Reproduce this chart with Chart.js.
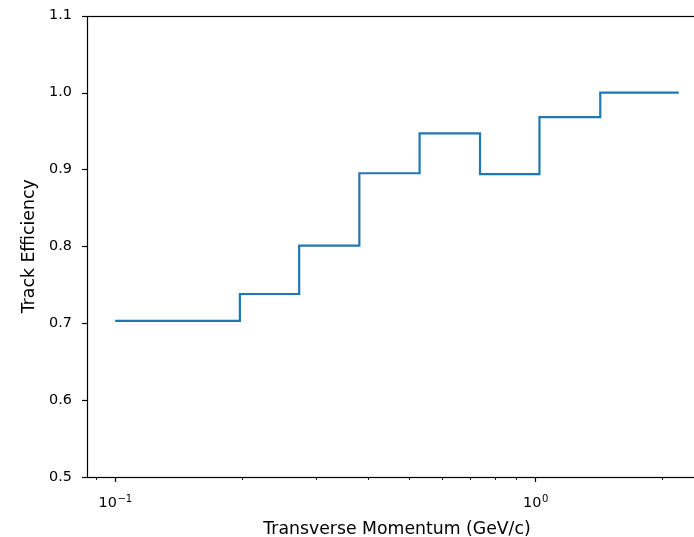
<!DOCTYPE html>
<html>
<head>
    <title>Track Efficiency</title>
    <script src="https://cdn.jsdelivr.net/npm/chart.js@4.4.1/dist/chart.umd.min.js"></script>
    <style>
        html, body {
            margin: 0;
            padding: 0;
            background: #fff;
            overflow: hidden;
        }
        canvas {
            display: block;
        }
    </style>
</head>
<body>
    <canvas id="effChart" width="694" height="537"></canvas>
    <script>
        // bin edges (GeV/c), value holds until the next edge
        const ptEdges = [0.1, 0.198, 0.274, 0.381, 0.53, 0.738, 1.022, 1.426, 2.193];
        const efficiency = [0.703, 0.738, 0.801, 0.895, 0.947, 0.894, 0.968, 1.0, 1.0];

        const yTicks = [0.5, 0.6, 0.7, 0.8, 0.9, 1.0, 1.1];
        const xTicks = [0.09, 0.1, 0.2, 0.3, 0.4, 0.5, 0.6, 0.7, 0.8, 0.9, 1, 2];
        const xMajor = [0.1, 1];
        const xMajorBase = ['10', '10'];
        const xMajorExp = ['\u22121', '0'];

        // matplotlib style 5% margin in log space
        const span = Math.log10(ptEdges[ptEdges.length - 1] / ptEdges[0]);
        const xMin = ptEdges[0] / Math.pow(10, 0.05 * span);
        const xMax = ptEdges[ptEdges.length - 1] * Math.pow(10, 0.05 * span);

        const font = 'DejaVu Sans';
        const hiddenRight = 13; // the right spine sits just past the picture

        // let the plot area run past the canvas edge, like the cropped original
        const stretch = {
            id: 'stretch',
            afterLayout(chart) {
                const a = chart.chartArea, x = chart.scales.x;
                a.right += hiddenRight;
                a.width = a.right - a.left;
                x.right = a.right;
                x.width = a.width;
                x.configure();
            }
        };

        // spines, tick marks and the 10^n labels, drawn like matplotlib
        const frame = {
            id: 'frame',
            afterDraw(chart) {
                const {ctx, chartArea: a, scales: {x, y}} = chart;
                ctx.save();
                ctx.strokeStyle = '#000';
                x.ticks.forEach(t => {
                    const px = Math.round(x.getPixelForValue(t.value)) + 0.5;
                    ctx.lineWidth = t.major ? 1.2 : 0.9;
                    ctx.beginPath();
                    ctx.moveTo(px, a.bottom);
                    ctx.lineTo(px, a.bottom + (t.major ? 5 : 3));
                    ctx.stroke();
                });
                y.ticks.forEach(t => {
                    const py = Math.round(y.getPixelForValue(t.value)) + 0.5;
                    ctx.lineWidth = 1.2;
                    ctx.beginPath();
                    ctx.moveTo(a.left, py);
                    ctx.lineTo(a.left - 5, py);
                    ctx.stroke();
                });
                const l = Math.round(a.left) + 0.5, tp = Math.round(a.top) + 0.5, b = Math.round(a.bottom) + 0.5;
                ctx.lineWidth = 1.2;
                ctx.strokeRect(l, tp, Math.round(a.right - a.left), b - tp);

                // major x labels with a real superscript
                ctx.fillStyle = '#000';
                ctx.textBaseline = 'alphabetic';
                ctx.textAlign = 'left';
                xMajor.forEach((v, i) => {
                    const px = x.getPixelForValue(v);
                    ctx.font = '14.4px "' + font + '"';
                    const wb = ctx.measureText(xMajorBase[i]).width;
                    ctx.font = '10.1px "' + font + '"';
                    const we = ctx.measureText(xMajorExp[i]).width;
                    const x0 = px - (wb + we) / 2;
                    ctx.font = '14.4px "' + font + '"';
                    ctx.fillText(xMajorBase[i], x0, 507);
                    ctx.font = '10.1px "' + font + '"';
                    ctx.fillText(xMajorExp[i], x0 + wb + 0.5, 501.5);
                });
                ctx.restore();
            }
        };

        const ctx = document.getElementById('effChart').getContext('2d');
        new Chart(ctx, {
            type: 'line',
            data: {
                datasets: [{
                    data: ptEdges.map((p, i) => ({x: p, y: efficiency[i]})),
                    stepped: 'before',
                    borderColor: '#1f77b4',
                    borderWidth: 2.2,
                    pointRadius: 0,
                    fill: false
                }]
            },
            options: {
                responsive: false,
                animation: false,
                devicePixelRatio: 1,
                layout: {
                    padding: {top: 11, right: 0, left: 0, bottom: 0}
                },
                plugins: {
                    legend: {display: false},
                    tooltip: {enabled: false}
                },
                scales: {
                    x: {
                        type: 'logarithmic',
                        min: xMin,
                        max: xMax,
                        grid: {display: false},
                        border: {display: false},
                        afterFit: s => { s.height = 60; },
                        afterBuildTicks: s => {
                            s.ticks = xTicks.map(v => ({value: v, major: xMajor.includes(v)}));
                        },
                        ticks: {
                            autoSkip: false,
                            maxRotation: 0,
                            padding: 15,
                            color: '#000',
                            font: {family: font, size: 14.4},
                            callback: () => ''
                        },
                        title: {
                            display: true,
                            text: 'Transverse Momentum (GeV/c)',
                            color: '#000',
                            font: {family: font, size: 17.3},
                            padding: {top: 0, bottom: -3}
                        }
                    },
                    y: {
                        min: 0.5,
                        max: 1.1,
                        grid: {display: false},
                        border: {display: false},
                        afterFit: s => { s.width = 87; },
                        afterBuildTicks: s => {
                            s.ticks = yTicks.map(v => ({value: v}));
                        },
                        ticks: {
                            padding: 7,
                            color: '#000',
                            font: {family: font, size: 14.4},
                            callback: v => v.toFixed(1)
                        },
                        title: {
                            display: true,
                            text: 'Track Efficiency',
                            color: '#000',
                            font: {family: font, size: 17.3},
                            padding: {top: 19.6, bottom: 0}
                        }
                    }
                }
            },
            plugins: [stretch, frame]
        });
    </script>
</body>
</html>
